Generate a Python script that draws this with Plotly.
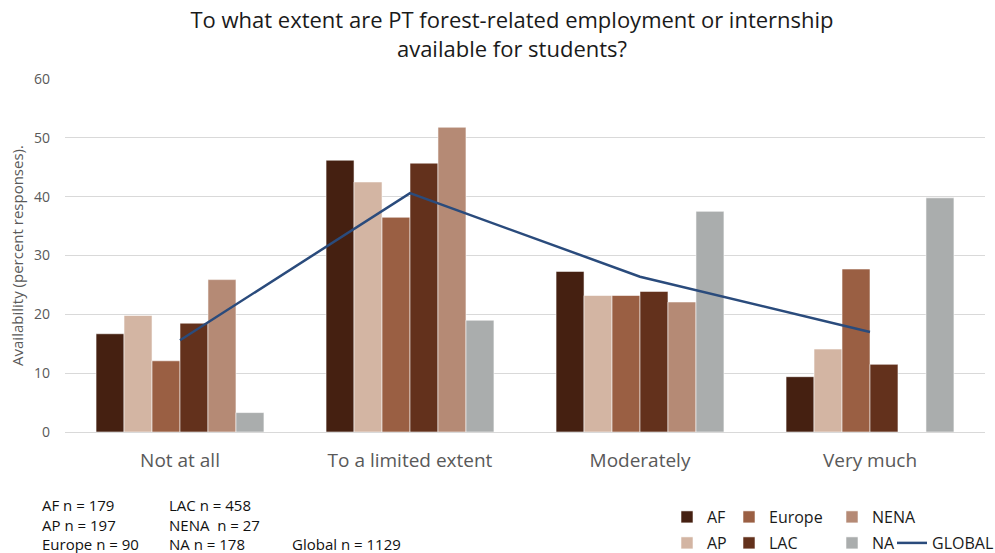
import plotly.graph_objects as go

categories = ["Not at all", "To a limited extent", "Moderately", "Very much"]
regions = ["AF", "AP", "Europe", "LAC", "NENA", "NA"]
af = [16.7, 46.2, 27.3, 9.4]
ap = [19.8, 42.5, 23.2, 14.1]
europe = [12.1, 36.5, 23.2, 27.7]
lac = [18.5, 45.7, 23.9, 11.5]
nena = [25.9, 51.8, 22.1, None]
na = [3.3, 19.0, 37.5, 39.8]
global_vals = [15.6, 40.6, 26.4, 17.0]
colors = ["#452011", "#D3B5A3", "#9A5F43", "#63311C", "#B58A75", "#AAADAD"]
line_color = "#2A4B7C"
n_notes = [
    ["AF n = 179", "AP n = 197", "Europe n = 90"],
    ["LAC n = 458", "NENA  n = 27", "NA n = 178"],
    ["", "", "Global n = 1129"],
]

W, H = 995, 553
FONT = "Open Sans"

series = [af, ap, europe, lac, nena, na]
# legend positions (container pixels): left x, center y
leg_pos = {
    "AF": (667, 517), "AP": (667, 543),
    "Europe": (729, 517), "LAC": (729, 543),
    "NENA": (832, 517), "NA": (832, 543),
    "GLOBAL": (892, 543),
}

fig = go.Figure()
layout_legends = {}
for i, (name, vals, col) in enumerate(zip(regions, series, colors)):
    lg = "legend" if i == 0 else f"legend{i+1}"
    fig.add_trace(go.Bar(
        x=categories, y=vals, name=name,
        marker=dict(color=col, line=dict(color="rgba(255,255,255,0.55)", width=1)),
        legend=lg,
    ))
    layout_legends[lg] = (name, leg_pos[name])

fig.add_trace(go.Scatter(
    x=categories, y=global_vals, name="GLOBAL", mode="lines",
    line=dict(color=line_color, width=2.5), legend="legend7",
))
layout_legends["legend7"] = ("GLOBAL", leg_pos["GLOBAL"])

leg_kw = {}
for lg, (name, (px, py)) in layout_legends.items():
    leg_kw[lg] = dict(
        xref="container", yref="container",
        x=px / W, y=1 - py / H, xanchor="left", yanchor="middle",
        bgcolor="rgba(0,0,0,0)", borderwidth=0,
        font=dict(family=FONT, size=16, color="#1a1a1a"),
        tracegroupgap=0, itemclick=False, itemdoubleclick=False,
    )

annotations = []
col_x = [40, 167, 290]
row_y = [505, 525, 544]
for ci, col_texts in enumerate(n_notes):
    for ri, t in enumerate(col_texts):
        if not t:
            continue
        annotations.append(dict(
            text=t, xref="paper", yref="paper",
            x=(col_x[ci] - 65) / 920, y=(432 - row_y[ri]) / 353,
            xanchor="left", yanchor="middle", showarrow=False,
            font=dict(family=FONT, size=15, color="#111111"),
        ))

fig.update_layout(
    width=W, height=H,
    margin=dict(l=65, r=10, t=79, b=121, autoexpand=False),
    paper_bgcolor="white", plot_bgcolor="white",
    barmode="group", bargap=0.27, bargroupgap=0,
    title=dict(
        text="To what extent are PT forest-related employment or internship<br>available for students?",
        x=512 / W, xanchor="center", xref="container",
        y=1 - 28 / H, yanchor="middle", yref="container",
        font=dict(family=FONT, size=22, color="#1a1a1a"),
    ),
    font=dict(family=FONT),
    xaxis=dict(
        showgrid=False, showline=False, ticks="",
        tickfont=dict(family=FONT, size=19, color="#595959"),
        ticklabelstandoff=15,
    ),
    yaxis=dict(
        range=[0, 60], dtick=10, showgrid=True, gridcolor="#D9D9D9", gridwidth=1,
        zeroline=True, zerolinecolor="#D9D9D9", zerolinewidth=1,
        showline=False, ticks="",
        tickfont=dict(family=FONT, size=14, color="#595959"),
        ticklabelstandoff=14,
        title=dict(text="Availability (percent responses).", standoff=6,
                   font=dict(family=FONT, size=15, color="#595959")),
    ),
    annotations=annotations,
    showlegend=True,
    **leg_kw,
)

fig.write_html(
    "out.html",
    config={"displayModeBar": False},
    post_script="document.body.style.margin='0';document.body.style.padding='0';",
)
